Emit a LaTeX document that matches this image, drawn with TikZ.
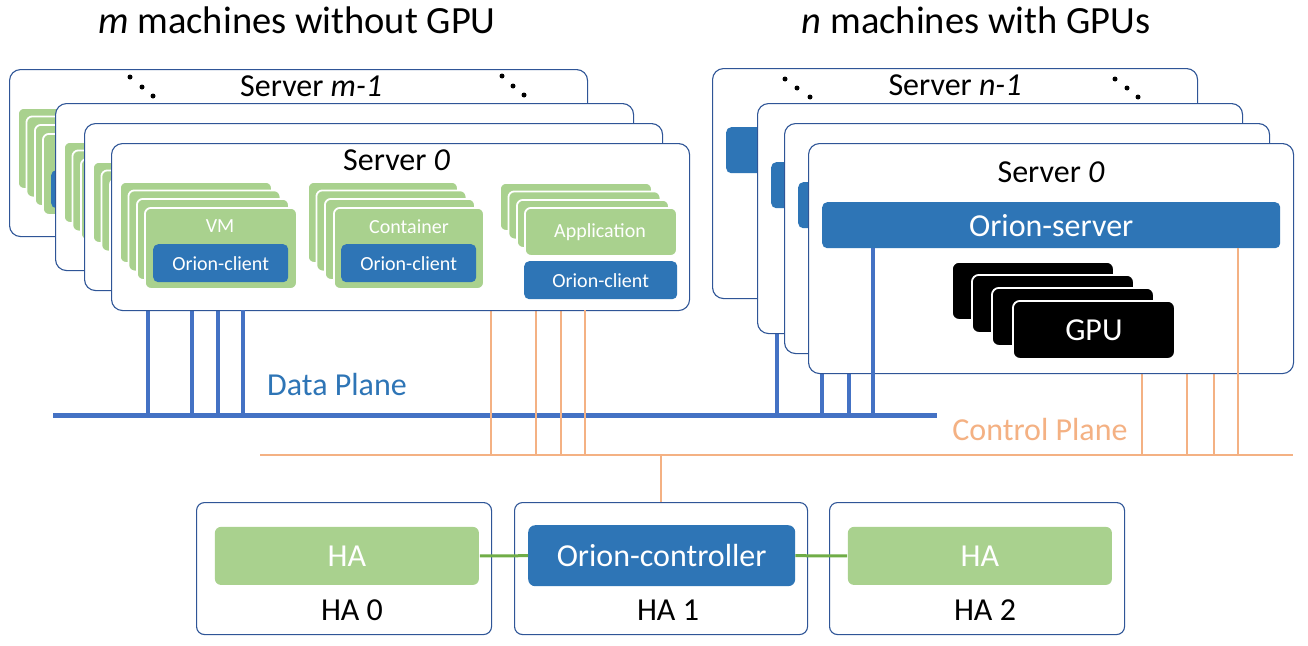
\documentclass[tikz,border=0pt]{standalone}
\usepackage{fontspec}
\setmainfont{Carlito}
\definecolor{grn}{HTML}{A9D18E}
\definecolor{blu}{HTML}{2E75B6}
\definecolor{dline}{HTML}{4472C4}
\definecolor{cline}{HTML}{F4B183}
\definecolor{bord}{HTML}{2F5597}
\definecolor{hcon}{HTML}{70AD47}
\newif\ifsrvtext
\newcommand\stx[1]{\ifsrvtext#1\fi}
\tikzset{
  srv/.style={draw=bord, line width=1.1pt, fill=white, rounded corners=11pt, anchor=north west, inner sep=0pt},
  gbox/.style={fill=grn, draw=white, line width=1.8pt, rounded corners=6pt, anchor=north west, inner sep=0pt},
  bbox/.style={fill=blu, draw=none, rounded corners=5pt, anchor=north west, inner sep=0pt, text=white},
  kbox/.style={fill=black, draw=white, line width=1.8pt, rounded corners=7pt, anchor=north west, inner sep=0pt, text=white},
  habox/.style={draw=bord, line width=1.1pt, fill=white, rounded corners=8pt, anchor=north west, inner sep=0pt},
  dl/.style={draw=dline, line width=4pt},
  cl/.style={draw=cline, line width=1.8pt},
  hl/.style={draw=hcon, line width=3pt},
  big/.style={font=\fontsize{32pt}{38pt}\selectfont, inner sep=0pt},
  ttl/.style={font=\fontsize{38.5pt}{44pt}\selectfont, inner sep=0pt, anchor=base},
  sm/.style={font=\fontsize{20pt}{24pt}\selectfont, inner sep=0pt},
  dot/.style={fill=black},
}
\newcommand\LServer[4]{%
\begin{scope}[shift={(#2,#3)}]
  \node[srv, minimum width=578pt, minimum height=167pt] (#1box) at (0,0) {};
  % VM stack
  \node[gbox, minimum width=152pt, minimum height=81pt] (#1vmA) at (8,38) {};
  \node[gbox, minimum width=152pt, minimum height=81pt] (#1vmB) at (16.5,46.5) {};
  \node[gbox, minimum width=152pt, minimum height=81pt] (#1vmC) at (25,55) {};
  \node[gbox, minimum width=152pt, minimum height=81pt] (#1vm) at (33,64) {};
  \ifsrvtext \node[sm, text=white, anchor=base] (#1vmt) at (109,89) {VM}; \fi
  \node[bbox, sm, minimum width=135pt, minimum height=38pt] (#1vmc) at (42,101) {\stx{Orion-client}};
  % Container stack
  \node[gbox, minimum width=150pt, minimum height=81pt] (#1ctA) at (196,38) {};
  \node[gbox, minimum width=150pt, minimum height=81pt] (#1ctB) at (204.5,46.5) {};
  \node[gbox, minimum width=150pt, minimum height=81pt] (#1ctC) at (213,55) {};
  \node[gbox, minimum width=150pt, minimum height=81pt] (#1ct) at (222,64) {};
  \ifsrvtext \node[sm, text=white, anchor=base] (#1ctt) at (298,90) {Container}; \fi
  \node[bbox, sm, minimum width=135pt, minimum height=38pt] (#1ctc) at (230,101) {\stx{Orion-client}};
  % Application stack
  \node[gbox, minimum width=152pt, minimum height=48pt] (#1apA) at (388,39) {};
  \node[gbox, minimum width=152pt, minimum height=48pt] (#1apB) at (396.5,47.5) {};
  \node[gbox, minimum width=152pt, minimum height=48pt] (#1apC) at (405,56) {};
  \node[gbox, minimum width=152pt, minimum height=48pt] (#1ap) at (413,64) {};
  \ifsrvtext \node[sm, text=white, anchor=base] (#1apt) at (489,94) {Application}; \fi
  \node[bbox, sm, minimum width=153pt, minimum height=38pt] (#1apc) at (413,118) {\stx{Orion-client}};
  #4
\end{scope}}
\newcommand\RServer[4]{%
\begin{scope}[shift={(#2,#3)}]
  \node[srv, minimum width=485pt, minimum height=230pt] (#1box) at (0,0) {};
  \node[bbox, big, minimum width=458pt, minimum height=46pt] (#1os) at (14,59) {\stx{Orion-server}};
  \node[kbox, minimum width=162pt, minimum height=58pt] (#1gA) at (143,118) {};
  \node[kbox, minimum width=162pt, minimum height=58pt] (#1gB) at (163,131) {};
  \node[kbox, minimum width=162pt, minimum height=58pt] (#1gC) at (183,144) {};
  \node[kbox, big, minimum width=162pt, minimum height=58pt] (#1g) at (204,157) {\stx{GPU}};
  \coordinate (#1d) at (65,105);
  \coordinate (#1c) at (430,105);
  #4
\end{scope}}
\begin{document}
\begin{tikzpicture}[x=1pt, y=-1pt]
\useasboundingbox[fill=white] (0,0) rectangle (1308,645);
% titles
\node[ttl] (t1) at (297,33) {\textit{m} machines without GPU};
\node[ttl] (t2) at (976,33) {\textit{n} machines with GPUs};
% planes
\coordinate (dpL) at (53,415);
\coordinate (dpR) at (937,415);
\coordinate (cpL) at (260,455);
\coordinate (cpR) at (1293,455);
\draw[dl, line width=5pt] (dpL) -- (dpR);
\draw[cl] (cpL) -- (cpR);
\node[big, text=blu, anchor=base] (dpt) at (337,395) {Data Plane};
\node[big, text=cline, anchor=base] (cpt) at (1040,440) {Control Plane};
% left servers (back ones: contents hidden, no text)
\srvtextfalse
\LServer{La}{9}{69}{%
  \node[big, anchor=base west] (Lalab) at (231,27) {Server \textit{m-1}};
  \fill[dot] (121,8) circle (2.5); \fill[dot] (133,18) circle (2.5); \fill[dot] (144,27) circle (2.5);
  \fill[dot] (493,7) circle (2.5); \fill[dot] (504,17) circle (2.5); \fill[dot] (515,26) circle (2.5);
  \coordinate (Lad) at (139,167); \coordinate (Lac) at (482,167);}
\draw[dl] (Lad) -- (Lad |- dpL);
\draw[cl] (Lac) -- (Lac |- cpL);
\LServer{Lb}{55}{103}{\coordinate (Lbd) at (137,167); \coordinate (Lbc) at (481,167);}
\draw[dl] (Lbd) -- (Lbd |- dpL);
\draw[cl] (Lbc) -- (Lbc |- cpL);
\LServer{Lc}{84}{123}{\coordinate (Lcd) at (134,167); \coordinate (Lcc) at (477,167);}
\draw[dl] (Lcd) -- (Lcd |- dpL);
\draw[cl] (Lcc) -- (Lcc |- cpL);
\srvtexttrue
\LServer{Ld}{111}{143}{%
  \node[big, anchor=base west] (Ldlab) at (232,27) {Server \textit{0}};
  \coordinate (Ldd) at (132,167); \coordinate (Ldc) at (474,167);}
\draw[dl] (Ldd) -- (Ldd |- dpL);
\draw[cl] (Ldc) -- (Ldc |- cpL);
% right servers
\srvtextfalse
\RServer{Ra}{712}{68}{%
  \node[big, anchor=base] (Ralab) at (243,27) {Server \textit{n-1}};
  \fill[dot] (73,11) circle (2.5); \fill[dot] (85,20) circle (2.5); \fill[dot] (98,29) circle (2.5);
  \fill[dot] (403,11) circle (2.5); \fill[dot] (415,20) circle (2.5); \fill[dot] (426,29) circle (2.5);}
\draw[dl] (Rad) -- (Rad |- dpL);
\draw[cl] (Rac) -- (Rac |- cpL);
\RServer{Rb}{757}{103}{}
\draw[dl] (Rbd) -- (Rbd |- dpL);
\draw[cl] (Rbc) -- (Rbc |- cpL);
\RServer{Rc}{784}{123}{}
\draw[dl] (Rcd) -- (Rcd |- dpL);
\draw[cl] (Rcc) -- (Rcc |- cpL);
\srvtexttrue
\RServer{Rd}{808}{143}{%
  \node[big, anchor=base] (Rdlab) at (243,39) {Server \textit{0}};}
\draw[dl] (Rdd) -- (Rdd |- dpL);
\draw[cl] (Rdc) -- (Rdc |- cpL);
% HA
\node[habox, minimum width=295pt, minimum height=132pt] (ha0) at (196,502) {};
\node[habox, minimum width=293pt, minimum height=132pt] (ha1) at (514,502) {};
\node[habox, minimum width=295pt, minimum height=132pt] (ha2) at (829,502) {};
\node[gbox, draw=none, big, text=white, minimum width=264pt, minimum height=58pt] (ha0g) at (214,526) {HA};
\node[bbox, big, rounded corners=7pt, minimum width=267pt, minimum height=61pt] (ctl) at (528,525) {Orion-controller};
\node[gbox, draw=none, big, text=white, minimum width=264pt, minimum height=58pt] (ha2g) at (847,526) {HA};
\node[big, anchor=base] (ha0t) at (352,620) {HA 0};
\node[big, anchor=base] (ha1t) at (668,620) {HA 1};
\node[big, anchor=base] (ha2t) at (985,620) {HA 2};
\draw[hl] (ha0g.east) -- (ctl.west);
\draw[hl] (ctl.east) -- (ha2g.west);
\draw[cl] (ha1.north) -- (ha1.north |- cpL);
\end{tikzpicture}
\end{document}
